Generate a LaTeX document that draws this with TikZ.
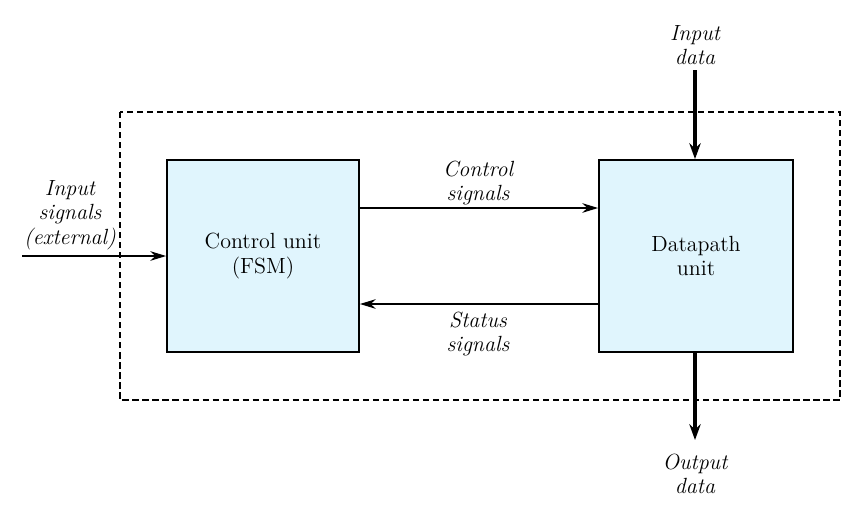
\documentclass[tikz,border=0pt]{standalone}
\usepackage{tikz}
\usetikzlibrary{arrows.meta}

\begin{document}
\begin{tikzpicture}[x=0.02cm, y=-0.02cm, font=\fontsize{12.5}{14}\selectfont,
    unitbox/.style={draw, line width=1.1pt, fill=cyan!12, minimum height=3.84cm, align=center, inner sep=0pt},
    sig/.style={-{Stealth[length=9pt, width=5.5pt]}, line width=0.7pt},
    bus/.style={-{Stealth[length=9pt, width=6.5pt]}, line width=2.2pt},
    lbl/.style={align=center, font=\fontsize{12.5}{14}\selectfont\itshape}]
  \useasboundingbox (0,0) rectangle (868,518);
  \draw[dash pattern=on 3.5pt off 2.2pt, line width=0.6pt] (120,112) rectangle (840,400);
  \node[unitbox, minimum width=3.84cm] (cu) at (263,256) {Control unit\\(FSM)};
  \node[unitbox, minimum width=3.88cm] (dp) at (696,256) {Datapath\\unit};
  % external connections
  \coordinate (ext) at (22,256);
  \coordinate (din) at (695,70);
  \coordinate (dout) at (695,440);
  \draw[sig] (ext) -- (cu.west);
  \draw[bus] (din) -- (din |- dp.north);
  \draw[bus] (dout |- dp.south) -- (dout);
  % control and status lines
  \draw[sig] (cu.east |- 0,208) -- (dp.west |- 0,208);
  \draw[sig] (dp.west |- 0,304) -- (cu.east |- 0,304);
  \node[lbl] (insig) at (70,215) {Input\\signals\\(external)};
  \node[lbl] (csig) at (478,183) {Control\\signals};
  \node[lbl] (ssig) at (478,334) {Status\\signals};
  \node[lbl] (idata) at (695,45) {Input\\data};
  \node[lbl] (odata) at (695,474) {Output\\data};
\end{tikzpicture}
\end{document}
